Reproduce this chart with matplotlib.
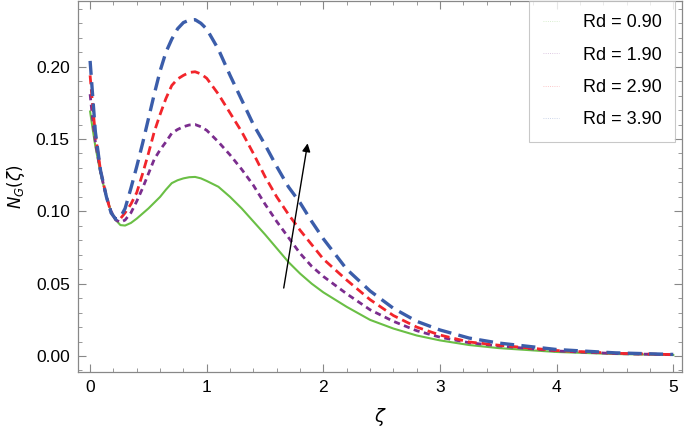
import matplotlib
matplotlib.use("Agg")
import matplotlib.pyplot as plt
from matplotlib.lines import Line2D
from matplotlib.ticker import MultipleLocator

plt.rcParams['font.family'] = ['Liberation Sans', 'DejaVu Sans']

# values
zeta = [0, 0.02, 0.045, 0.09, 0.14, 0.18, 0.22, 0.26, 0.3, 0.35, 0.4, 0.45,
        0.5, 0.55, 0.6, 0.65, 0.7, 0.75, 0.8, 0.85, 0.9, 0.95, 1.0, 1.1, 1.2,
        1.3, 1.4, 1.5, 1.6, 1.7, 1.8, 1.9, 2.0, 2.2, 2.4, 2.6, 2.8, 3.0, 3.25,
        3.5, 4.0, 4.5, 5.0]

ng_rd090 = [0.169, 0.158, 0.145, 0.126, 0.110, 0.100, 0.094, 0.0905, 0.0902, 0.092,
            0.095, 0.0985, 0.102, 0.106, 0.110, 0.115, 0.1195, 0.1215, 0.1228, 0.1236,
            0.1238, 0.1228, 0.121, 0.117, 0.110, 0.102, 0.093, 0.084, 0.0745, 0.065,
            0.057, 0.050, 0.044, 0.034, 0.025, 0.019, 0.0142, 0.0108, 0.0076, 0.0055,
            0.0028, 0.0014, 0.0007]

ng_rd190 = [0.181, 0.165, 0.148, 0.127, 0.110, 0.100, 0.094, 0.0925, 0.094, 0.099,
            0.107, 0.116, 0.126, 0.136, 0.1425, 0.148, 0.154, 0.1566, 0.1585, 0.1597,
            0.160, 0.1585, 0.156, 0.148, 0.139, 0.129, 0.118, 0.105, 0.093, 0.082,
            0.071, 0.062, 0.055, 0.043, 0.032, 0.024, 0.0175, 0.013, 0.0092, 0.007,
            0.0035, 0.0017, 0.0009]

ng_rd290 = [0.194, 0.175, 0.153, 0.128, 0.110, 0.099, 0.0945, 0.095, 0.099, 0.105,
            0.113, 0.126, 0.140, 0.155, 0.167, 0.178, 0.187, 0.1915, 0.194, 0.196,
            0.1965, 0.195, 0.192, 0.181, 0.168, 0.155, 0.140, 0.124, 0.110, 0.098,
            0.087, 0.077, 0.067, 0.0525, 0.039, 0.028, 0.020, 0.0145, 0.0097, 0.0075,
            0.0038, 0.0019, 0.001]

ng_rd390 = [0.204, 0.182, 0.155, 0.128, 0.110, 0.099, 0.0945, 0.096, 0.102, 0.116,
            0.131, 0.147, 0.164, 0.181, 0.197, 0.210, 0.219, 0.2262, 0.2305, 0.2322,
            0.2325, 0.230, 0.226, 0.212, 0.194, 0.177, 0.160, 0.146, 0.131, 0.117,
            0.106, 0.093, 0.081, 0.060, 0.045, 0.033, 0.024, 0.018, 0.0124, 0.009,
            0.0045, 0.0022, 0.0011]

labels = ['Rd = 0.90', 'Rd = 1.90', 'Rd = 2.90', 'Rd = 3.90']
colors = ['#6abf45', '#7b2d8e', '#f2252b', '#3b5daa']

fig = plt.figure(figsize=(6.85, 4.34), dpi=100)
ax = fig.add_axes([0.114, 0.143, 0.882, 0.855])

ax.plot(zeta, ng_rd090, color=colors[0], lw=1.5)
ax.plot(zeta, ng_rd190, color=colors[1], lw=2.0, dashes=(2.2, 1.6))
ax.plot(zeta, ng_rd290, color=colors[2], lw=2.0, dashes=(3.2, 1.8))
ax.plot(zeta, ng_rd390, color=colors[3], lw=2.4, dashes=(4.2, 2.2))

# arrow showing increasing Rd
ax.annotate('', xy=(1.865, 0.147), xytext=(1.66, 0.047),
            arrowprops=dict(arrowstyle='-|>', color='black', lw=1.0,
                            mutation_scale=12, shrinkA=0, shrinkB=0))

ax.set_xlim(-0.103, 5.077)
ax.set_ylim(-0.011, 0.2455)
ax.xaxis.set_major_locator(MultipleLocator(1))
ax.xaxis.set_minor_locator(MultipleLocator(0.2))
ax.yaxis.set_major_locator(MultipleLocator(0.05))
ax.yaxis.set_minor_locator(MultipleLocator(0.01))
ax.yaxis.set_major_formatter(plt.FuncFormatter(lambda v, p: f'{v:.2f}'))
ax.tick_params(which='both', direction='in', top=True, right=True,
               color='#888888', labelsize=12.5, pad=6)
ax.tick_params(which='major', length=6, width=0.8)
ax.tick_params(which='minor', length=3, width=0.6)
for s in ax.spines.values():
    s.set_color('#888888')
    s.set_linewidth(0.9)

ax.set_xlabel(r'$\zeta$', fontsize=13, labelpad=8)
ax.set_ylabel(r'$N_G(\zeta)$', fontsize=12, labelpad=6)

handles = [Line2D([], [], color=c, lw=0.6, alpha=0.35, ls=':') for c in colors]
leg = ax.legend(handles, labels, loc='upper right', bbox_to_anchor=(0.988, 1.0),
                borderaxespad=0, fontsize=13, frameon=True, fancybox=False,
                handlelength=0.9, handletextpad=1.3, labelspacing=0.85,
                borderpad=0.75, edgecolor='#bbbbbb')
leg.get_frame().set_linewidth(0.8)

fig.savefig('out.png', dpi=100)
